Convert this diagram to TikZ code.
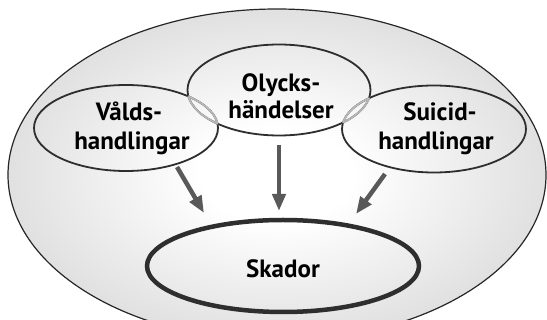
\documentclass[tikz,border=0pt]{standalone}
\usepackage{fontspec}
\newfontfamily\lblfont{PT Sans}
\usetikzlibrary{shapes.geometric,arrows.meta}
\pgfdeclareradialshading{outerglow}{\pgfpoint{0bp}{0bp}}{color(0bp)=(white); color(7bp)=(white); color(25bp)=(black!12); color(50bp)=(black!12)}
\tikzset{
  oval/.style={draw=black!82, line width=1.8pt, ellipse, inner sep=0pt},
  lens/.style={draw=black!28, line width=1.8pt},
  lbl/.style={anchor=base, inner sep=0pt, font=\lblfont\bfseries\fontsize{25}{28}\selectfont},
  arr/.style={draw=black!65, line width=4.5pt, -{Triangle[length=17pt,width=13pt]}},
}
\begin{document}
\begin{tikzpicture}[x=1pt,y=-1pt]
\useasboundingbox (0,0) rectangle (547,320);
\begin{scope}
\clip (0,0) rectangle (547,320);
\shade[shading=outerglow] (277,175) ellipse [x radius=269, y radius=166];
\draw[black!85, line width=1.2pt] (277,175) ellipse [x radius=269, y radius=166];
\end{scope}
\node[oval, minimum width=184pt, minimum height=86pt] (vald) at (126,128) {};
\node[oval, minimum width=183pt, minimum height=91pt] (olyck) at (279,90) {};
\node[oval, minimum width=184pt, minimum height=87pt] (suic) at (434,129) {};
\node[oval, line width=4.5pt, minimum width=272pt, minimum height=92pt] (skador) at (283,266) {};
% light gray arcs inside the overlaps
\begin{scope}
\clip (126,128) ellipse [x radius=92, y radius=43];
\draw[lens] (279,90) ellipse [x radius=91.5, y radius=45.5];
\end{scope}
\begin{scope}
\clip (279,90) ellipse [x radius=91.5, y radius=45.5];
\draw[lens] (126,128) ellipse [x radius=92, y radius=43];
\draw[lens] (434,129) ellipse [x radius=92, y radius=43.5];
\end{scope}
\begin{scope}
\clip (434,129) ellipse [x radius=92, y radius=43.5];
\draw[lens] (279,90) ellipse [x radius=91.5, y radius=45.5];
\end{scope}
% texts
\node[lbl] (t1) at (129,120.4) {Vålds-};
\node[lbl] (t2) at (132,150) {handlingar};
\node[lbl] (t3) at (281,91.4) {Olycks-};
\node[lbl] (t4) at (281,118.6) {händelser};
\node[lbl] (t5) at (440,120.4) {Suicid-};
\node[lbl] (t6) at (436,150) {handlingar};
\node[lbl] (t7) at (283,277.4) {Skador};
% arrows
\coordinate (a1s) at (177,167);
\coordinate (a1e) at (204,213);
\coordinate (a2s) at (279,145);
\coordinate (a2e) at (279,211);
\coordinate (a3s) at (385,174);
\coordinate (a3e) at (356,214);
\draw[arr] (a1s) -- (a1e);
\draw[arr] (a2s) -- (a2e);
\draw[arr] (a3s) -- (a3e);
\end{tikzpicture}
\end{document}
